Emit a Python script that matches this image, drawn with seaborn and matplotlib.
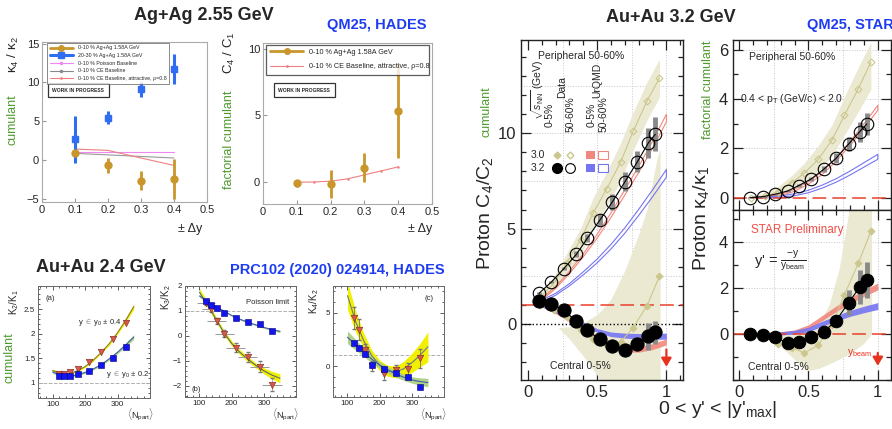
import matplotlib
matplotlib.use("Agg")
import matplotlib.pyplot as plt
from matplotlib.lines import Line2D
from matplotlib.patches import Rectangle
from matplotlib.ticker import AutoMinorLocator, MultipleLocator
import seaborn as sns

# ---------------- Ag+Ag 2.55 GeV (HADES, QM25) ----------------
dy = [0.1, 0.2, 0.3, 0.4]
k4k2_0010 = [0.95, -0.65, -2.6, -2.4]
k4k2_0010_err = [0.25, 1.0, 1.25, 2.6]
k4k2_2030 = [2.7, 5.5, 9.1, 11.7]
k4k2_2030_err = [3.0, 0.8, 1.0, 1.9]
k4k2_poisson = [1.05, 1.05, 1.05, 1.05]
k4k2_ce = [0.9, 0.7, 0.5, 0.3]
k4k2_ce_attr = [1.45, 1.28, 0.3, -0.65]

c4c1_0010 = [-0.08, -0.12, 1.1, 5.35]
c4c1_0010_err = [0.25, 1.05, 1.1, 3.55]
dy_fine = [0.1, 0.15, 0.2, 0.25, 0.3, 0.35, 0.4]
c4c1_ce_attr = [0.0, 0.02, 0.08, 0.25, 0.55, 0.85, 1.15]

# ---------------- Au+Au 2.4 GeV (HADES, PRC102) ----------------
npart = [121, 136, 153, 177, 212, 250, 287, 325]
npart_fit = [100, 125, 150, 175, 200, 225, 250, 275, 300, 325, 350]

k2k1_04 = [1.17, 1.17, 1.21, 1.28, 1.43, 1.63, 1.89, 2.22]
k2k1_02 = [1.14, 1.13, 1.13, 1.17, 1.24, 1.36, 1.51, 1.72]
k2k1_04_fit = [1.25, 1.19, 1.18, 1.24, 1.33, 1.46, 1.62, 1.8, 2.02, 2.27, 2.55]
k2k1_02_fit = [1.22, 1.15, 1.13, 1.16, 1.21, 1.28, 1.37, 1.49, 1.62, 1.77, 1.93]
k2k1_fit_hw = [0.03, 0.03, 0.02, 0.02, 0.02, 0.02, 0.02, 0.03, 0.03, 0.04, 0.05]

k3k2_02 = [1.39, 1.25, 1.12, 0.93, 0.73, 0.56, 0.47, 0.2]
k3k2_04 = [1.33, 1.07, 0.6, 0.09, -0.47, -0.84, -1.24, -1.95]
k3k2_04_xerr = [28, 28, 30, 30, 30, 30, 30, 30]
k3k2_04_sys = [0.1, 0.1, 0.12, 0.15, 0.18, 0.2, 0.22, 0.25]
k3k2_02_fit = [1.6, 1.38, 1.18, 1.0, 0.82, 0.67, 0.55, 0.44, 0.34, 0.25, 0.18]
k3k2_04_fit = [1.75, 1.25, 0.7, 0.15, -0.3, -0.65, -0.93, -1.18, -1.4, -1.57, -1.7]
k3k2_04_hw = [0.15, 0.12, 0.1, 0.1, 0.1, 0.1, 0.1, 0.1, 0.12, 0.15, 0.18]
k3k2_02_hw = [0.05, 0.04, 0.04, 0.03, 0.03, 0.03, 0.03, 0.03, 0.04, 0.04, 0.05]

k4k2_b_02 = [2.14, 1.73, 1.13, 0.1, -0.31, -0.69, -1.0, -1.95]
k4k2_b_04 = [4.5, 3.4, 1.5, 0.0, -0.75, -0.38, -0.3, 0.72]
k4k2_b_04_err = [1.0, 1.0, 0.6, 0.5, 0.6, 0.5, 0.6, 0.9]
k4k2_b_04_fit = [6.6, 4.2, 2.4, 1.0, 0.05, -0.45, -0.55, -0.25, 0.3, 1.0, 1.8]
k4k2_b_04_hw = [1.3, 1.0, 0.7, 0.5, 0.5, 0.5, 0.55, 0.7, 0.9, 1.1, 1.4]
k4k2_b_02_fit = [2.7, 2.0, 1.3, 0.65, 0.1, -0.35, -0.75, -1.05, -1.3, -1.45, -1.55]
k4k2_b_02_hw = [0.6, 0.5, 0.4, 0.35, 0.3, 0.3, 0.3, 0.3, 0.3, 0.35, 0.4]

# ---------------- Au+Au 3.0 / 3.2 GeV (STAR, QM25) ----------------
yp = [0.08, 0.17, 0.26, 0.35, 0.43, 0.52, 0.61, 0.70, 0.79, 0.87, 0.92]
c4c2_per32 = [1.6, 2.2, 2.9, 3.65, 4.5, 5.45, 6.4, 7.45, 8.5, 9.5, 9.95]
c4c2_per32_sys = [0.05, 0.05, 0.1, 0.15, 0.2, 0.3, 0.4, 0.5, 0.55, 0.8, 0.9]
c4c2_cen32 = [1.19, 1.02, 0.70, 0.14, -0.35, -0.82, -1.18, -1.35, -1.04, -0.65, -0.44]
c4c2_cen32_sys = [0.02, 0.02, 0.03, 0.04, 0.05, 0.08, 0.1, 0.15, 0.3, 0.7, 0.6]

yp30 = [0.09, 0.19, 0.28, 0.38, 0.47, 0.57, 0.67, 0.76, 0.86, 0.95]
c4c2_per30 = [1.4, 2.15, 3.2, 4.4, 5.8, 7.1, 8.5, 10.1, 11.7, 12.9]
c4c2_per30_lo = [1.2, 1.8, 2.7, 3.6, 5.0, 6.2, 7.5, 9.1, 10.7, 11.9]
c4c2_per30_hi = [1.6, 2.5, 3.7, 5.0, 6.6, 8.0, 9.5, 11.1, 12.7, 13.9]
c4c2_cen30 = [1.0, 0.75, 0.35, -0.3, -0.8, -1.1, -0.95, -0.2, 0.95, 2.5]
cen30_band_x = [0.22, 0.3, 0.4, 0.5, 0.53, 0.6, 0.7, 0.8, 0.86, 0.93, 0.955]
c4c2_cen30_lo = [-0.2, -0.8, -1.7, -2.7, -3.2, -3.2, -3.2, -3.2, -3.2, -3.2, -3.2]
c4c2_cen30_hi = [-0.2, -0.15, 0.05, 0.5, 0.7, 1.3, 2.8, 4.7, 6.0, 8.6, 9.2]

yu = [0.1, 0.2, 0.3, 0.4, 0.5, 0.6, 0.7, 0.8, 0.9, 1.0]
urq_c4c2_per30 = [1.3, 1.9, 2.7, 3.6, 4.6, 5.7, 6.9, 8.1, 9.4, 10.8]
urq_c4c2_per32 = [1.2, 1.55, 2.05, 2.65, 3.3, 4.05, 4.9, 5.85, 6.85, 7.9]
urq_c4c2_cen30 = [0.95, 0.6, 0.2, -0.3, -0.8, -1.15, -1.35, -1.35, -1.2, -0.95]
urq_c4c2_cen32 = [0.95, 0.65, 0.35, 0.0, -0.35, -0.55, -0.62, -0.65, -0.66, -0.65]
urq_c4c2_per_hw = [0.05, 0.05, 0.06, 0.08, 0.1, 0.12, 0.14, 0.16, 0.18, 0.2]
urq_c4c2_cen_hw = [0.06, 0.07, 0.08, 0.09, 0.1, 0.12, 0.13, 0.14, 0.15, 0.16]

k4k1_per32 = [0.0, 0.04, 0.14, 0.27, 0.49, 0.76, 1.15, 1.6, 2.18, 2.68, 2.99]
k4k1_per32_sys = [0.01, 0.01, 0.02, 0.03, 0.05, 0.07, 0.12, 0.2, 0.3, 0.4, 0.45]
k4k1_cen32 = [0.0, -0.06, -0.14, -0.39, -0.36, -0.14, 0.09, 0.59, 1.37, 2.04, 2.35]
k4k1_cen32_sys = [0.02, 0.02, 0.03, 0.04, 0.05, 0.06, 0.1, 0.2, 0.55, 0.75, 0.8]

k4k1_per30 = [0.0, 0.05, 0.25, 0.61, 0.99, 1.55, 2.34, 3.35, 4.43, 5.5]
k4k1_per30_lo = [0.0, 0.0, 0.1, 0.35, 0.65, 1.05, 1.7, 2.55, 3.5, 4.4]
k4k1_per30_hi = [0.05, 0.2, 0.45, 0.9, 1.4, 2.1, 2.95, 4.1, 5.3, 6.3]
k4k1_cen30 = [0.0, -0.05, -0.42, -0.6, -0.82, -0.49, 0.4, 1.72, 3.09, 4.47]
k4cen_band_x = [0.2, 0.3, 0.4, 0.49, 0.57, 0.65, 0.72, 0.8, 0.9, 0.955]
k4k1_cen30_lo = [0.0, -0.55, -1.1, -1.6, -1.5, -1.3, -1.1, -0.85, -0.4, 0.0]
k4k1_cen30_hi = [0.0, 0.05, 0.1, 0.15, 0.3, 1.3, 2.8, 5.6, 5.6, 5.6]

urq_k4k1_per30 = [0.0, 0.03, 0.12, 0.3, 0.6, 1.0, 1.55, 2.2, 2.9, 3.65]
urq_k4k1_per32 = [0.0, 0.01, 0.04, 0.12, 0.25, 0.45, 0.7, 1.0, 1.33, 1.66]
urq_k4k1_cen30 = [0.0, 0.01, 0.03, 0.1, 0.3, 0.7, 1.1, 1.45, 1.78, 2.07]
urq_k4k1_cen32 = [0.0, 0.01, 0.03, 0.08, 0.2, 0.45, 0.68, 0.9, 1.07, 1.22]
urq_k4k1_per_hw = [0.02, 0.02, 0.03, 0.04, 0.05, 0.06, 0.07, 0.08, 0.09, 0.1]
urq_k4k1_cen_hw = [0.05, 0.06, 0.07, 0.08, 0.1, 0.11, 0.12, 0.13, 0.14, 0.15]

# ---------------- style ----------------
sns.set_style("ticks")
plt.rcParams['font.family'] = ['Liberation Sans', 'DejaVu Sans']
plt.rcParams['mathtext.fontset'] = 'custom'
plt.rcParams['mathtext.rm'] = 'Liberation Sans'
plt.rcParams['mathtext.it'] = 'Liberation Sans:italic'
plt.rcParams['mathtext.bf'] = 'Liberation Sans:bold'

GOLD = '#C9962C'
ABLUE = '#2F6DF2'
GREEN = '#4E9A2E'
TBLUE = '#1E3CF0'
KHAKI = '#CBC78E'
KBAND = '#EBE9D2'
SALMON = '#F2877D'
LBLUE = '#7575F2'
TRI = '#D8594A'
SQ = '#1414EE'

W, H = 892, 429
fig = plt.figure(figsize=(W / 100, H / 100), dpi=100)


def panel(l, t, r, b):
    return fig.add_axes([l / W, 1 - b / H, (r - l) / W, (b - t) / H])


def ftext(px, py, s, **kw):
    fig.text(px / W, 1 - py / H, s, **kw)


def line(ax, x, y, **kw):
    sns.lineplot(x=x, y=y, ax=ax, estimator=None, sort=False, legend=False, **kw)


# ================= Ag+Ag: kappa4/kappa2 =================
ax = panel(42, 42, 207, 202)
line(ax, dy, k4k2_poisson, color='#EE88EE', linewidth=0.8)
line(ax, dy, k4k2_ce, color='#999999', linewidth=0.8)
line(ax, dy, k4k2_ce_attr, color='#F08080', linewidth=0.8)
ax.errorbar(dy, k4k2_0010, yerr=k4k2_0010_err, fmt='o', color=GOLD, ms=5, elinewidth=2, zorder=4)
ax.errorbar(dy, k4k2_2030, yerr=k4k2_2030_err, fmt='s', color=ABLUE, ms=4.5, elinewidth=2.2, zorder=4)
ax.set_xlim(0, 0.5)
ax.set_ylim(-5.35, 15.2)
ax.set_xticks([0, 0.1, 0.2, 0.3, 0.4, 0.5])
ax.set_xticklabels(['0', '0.1', '0.2', '0.3', '0.4', '0.5'])
ax.set_yticks([-5, 0, 5, 10, 15])
ax.set_yticklabels(['\u22125', '0', '5', '10', '15'])
ax.tick_params(direction='in', length=3, color='#999999', labelsize=8, pad=2)
for s in ax.spines.values():
    s.set_color('#aaaaaa')
handles = [Line2D([], [], color=GOLD, lw=2, marker='o', ms=4),
           Line2D([], [], color=ABLUE, lw=2.2, marker='s', ms=4),
           Line2D([], [], color='#EE88EE', lw=0.8, marker='.', ms=3),
           Line2D([], [], color='#888888', lw=0.8, marker='.', ms=3),
           Line2D([], [], color='#F08080', lw=0.8, marker='.', ms=2)]
labels = ['0-10 % Ag+Ag 1.58A GeV', '20-30 % Ag+Ag 1.58A GeV', '0-10 % Poisson Baseline',
          '0-10 % CE Baseline', '0-10 % CE Baseline, attractive, \u03c1=0.8']
leg = ax.legend(handles, labels, loc='upper left', bbox_to_anchor=(0.03, 0.995), fontsize=3.8,
                frameon=True, fancybox=False, edgecolor='#555555', borderaxespad=0,
                handlelength=4.5, labelspacing=0.5, borderpad=0.5)
leg.get_frame().set_linewidth(0.6)
ax.text(0.22, 0.70, 'WORK IN PROGRESS', transform=ax.transAxes, fontsize=3.6, fontweight='bold',
        ha='center', va='center',
        bbox=dict(boxstyle='square,pad=0.9', fc='white', ec='#333333', lw=0.9))

# ================= Ag+Ag: C4/C1 =================
ax = panel(263, 43, 432, 204)
line(ax, dy_fine, c4c1_ce_attr, color='#F08080', linewidth=0.8, marker='.', markersize=2,
     markeredgecolor='#F08080')
ax.errorbar(dy, c4c1_0010, yerr=c4c1_0010_err, fmt='o', color=GOLD, ms=5, elinewidth=2, zorder=4)
ax.set_xlim(0, 0.5)
ax.set_ylim(-1.63, 10.43)
ax.set_xticks([0, 0.1, 0.2, 0.3, 0.4, 0.5])
ax.set_xticklabels(['0', '0.1', '0.2', '0.3', '0.4', '0.5'])
ax.set_yticks([0, 5, 10])
ax.tick_params(direction='in', length=3, color='#999999', labelsize=8, pad=2)
for s in ax.spines.values():
    s.set_color('#aaaaaa')
handles = [Line2D([], [], color=GOLD, lw=2, marker='o', ms=4),
           Line2D([], [], color='#F08080', lw=0.8, marker='.', ms=2)]
labels = ['0-10 % Ag+Ag 1.58A GeV', '0-10 % CE Baseline, attractive, \u03c1=0.8']
leg = ax.legend(handles, labels, loc='upper left', bbox_to_anchor=(0.018, 0.775, 0.965, 0.215),
                mode='expand', fontsize=5.2, frameon=True, fancybox=False, edgecolor='#333333',
                borderaxespad=0, handlelength=4.5, labelspacing=1.0, borderpad=0.6)
leg.get_frame().set_linewidth(0.9)
leg.set_zorder(10)
ax.text(0.245, 0.705, 'WORK IN PROGRESS', transform=ax.transAxes, fontsize=3.6, fontweight='bold',
        ha='center', va='center',
        bbox=dict(boxstyle='square,pad=0.9', fc='white', ec='#333333', lw=0.9))

ftext(204, 16, 'Ag+Ag 2.55 GeV', fontsize=13, fontweight='bold', ha='center', va='center')
ftext(377, 25, 'QM25, HADES', fontsize=10.5, fontweight='bold', color=TBLUE, ha='center', va='center')
ftext(13, 55, r'κ$_4$ / κ$_2$', fontsize=9.5, rotation=90, ha='center', va='center')
ftext(13, 120, 'cumulant', fontsize=9, rotation=90, ha='center', va='center', color=GREEN)
ftext(229, 53, r'C$_4$ / C$_1$', fontsize=9.5, rotation=90, ha='center', va='center')
ftext(229, 140, 'factorial cumulant', fontsize=9, rotation=90, ha='center', va='center', color=GREEN)
ftext(190, 229, '\u00b1 \u0394y', fontsize=9, ha='center', va='center')
ftext(420, 229, '\u00b1 \u0394y', fontsize=9, ha='center', va='center')


# ================= Au+Au 2.4 GeV (HADES) =================
def hades_frame(ax, ylim, yticks, ylabels):
    ax.set_xlim(55, 400)
    ax.set_ylim(*ylim)
    ax.set_xticks([100, 200, 300])
    ax.set_xticklabels(['100', '200', '300'])
    ax.set_yticks(yticks)
    ax.set_yticklabels(ylabels)
    ax.xaxis.set_minor_locator(AutoMinorLocator(5))
    ax.yaxis.set_minor_locator(AutoMinorLocator(5))
    ax.tick_params(which='both', direction='in', top=True, right=True, labelsize=5.8,
                   width=0.6, color='#444444', pad=2)
    ax.tick_params(which='major', length=3)
    ax.tick_params(which='minor', length=1.5)
    for s in ax.spines.values():
        s.set_color('#666666')
        s.set_linewidth(0.7)
    ax.axhline(1, ls='--', color='#b0b0b0', lw=0.7, zorder=1)


# (a)
ax = panel(38, 286, 150, 398)
hades_frame(ax, (0.69, 2.97), [1, 1.5, 2, 2.5], ['1', '1.5', '2', '2.5'])
ax.fill_between(npart_fit, [a - b for a, b in zip(k2k1_04_fit, k2k1_fit_hw)],
                [a + b for a, b in zip(k2k1_04_fit, k2k1_fit_hw)], color='#F2F000', lw=0, zorder=2)
ax.fill_between(npart_fit, [a - b for a, b in zip(k2k1_02_fit, k2k1_fit_hw)],
                [a + b for a, b in zip(k2k1_02_fit, k2k1_fit_hw)], color='#B9D98E', lw=0, zorder=2)
line(ax, npart_fit, k2k1_04_fit, color='#8A7D2A', linewidth=0.8, zorder=3)
line(ax, npart_fit, k2k1_02_fit, color='#3E5FA8', linewidth=0.8, zorder=3)
sns.scatterplot(x=npart, y=k2k1_04, ax=ax, marker='v', s=22, color=TRI, edgecolor='#7A2A20',
                linewidth=0.4, zorder=5)
sns.scatterplot(x=npart, y=k2k1_02, ax=ax, marker='s', s=16, color=SQ, edgecolor='#000080',
                linewidth=0.4, zorder=5)
ax.text(0.07, 0.92, '(a)', transform=ax.transAxes, fontsize=5.5, va='top')
ax.text(0.36, 0.67, r'y $\in$ y$_0$ ± 0.4', transform=ax.transAxes, fontsize=5.5, va='center')
ax.text(0.61, 0.21, r'y $\in$ y$_0$ ± 0.2', transform=ax.transAxes, fontsize=5.5, va='center')

# (b)
ax = panel(185, 286, 296, 397)
hades_frame(ax, (-2.45, 2.0), [-2, -1, 0, 1, 2], ['\u22122', '\u22121', '0', '1', '2'])
ax.fill_between(npart_fit, [a - b for a, b in zip(k3k2_04_fit, k3k2_04_hw)],
                [a + b for a, b in zip(k3k2_04_fit, k3k2_04_hw)], color='#F2F000', lw=0, zorder=2)
ax.fill_between(npart_fit, [a - b for a, b in zip(k3k2_02_fit, k3k2_02_hw)],
                [a + b for a, b in zip(k3k2_02_fit, k3k2_02_hw)], color='#B9D98E', lw=0, zorder=2)
line(ax, npart_fit, k3k2_04_fit, color='#5A6A70', linewidth=0.8, zorder=3)
line(ax, npart_fit, k3k2_02_fit, color='#3E5FA8', linewidth=0.8, zorder=3)
ax.errorbar(npart, k3k2_04, xerr=k3k2_04_xerr, fmt='none', ecolor='#999999', elinewidth=0.7, zorder=4)
ax.errorbar(npart, k3k2_04, yerr=k3k2_04_sys, fmt='none', ecolor='#777777', elinewidth=0.4,
            capsize=1.5, zorder=4)
sns.scatterplot(x=npart, y=k3k2_04, ax=ax, marker='v', s=22, color=TRI, edgecolor='#7A2A20',
                linewidth=0.4, zorder=5)
sns.scatterplot(x=npart, y=k3k2_02, ax=ax, marker='s', s=16, color=SQ, edgecolor='#000080',
                linewidth=0.4, zorder=5)
ax.text(0.06, 0.05, '(b)', transform=ax.transAxes, fontsize=5.5)
ax.text(0.55, 0.835, 'Poisson limit', transform=ax.transAxes, fontsize=5.5)

# (c)
ax = panel(333, 286, 444, 397)
hades_frame(ax, (-2.9, 7.5), [0, 5], ['0', '5'])
ax.fill_between(npart_fit, [a - b for a, b in zip(k4k2_b_04_fit, k4k2_b_04_hw)],
                [a + b for a, b in zip(k4k2_b_04_fit, k4k2_b_04_hw)], color='#F2F000', lw=0, zorder=2)
ax.fill_between(npart_fit, [a - b for a, b in zip(k4k2_b_02_fit, k4k2_b_02_hw)],
                [a + b for a, b in zip(k4k2_b_02_fit, k4k2_b_02_hw)], color='#A8CF7C', lw=0,
                alpha=0.9, zorder=2)
line(ax, npart_fit, k4k2_b_04_fit, color='#6A7890', linewidth=0.8, zorder=3)
line(ax, npart_fit, k4k2_b_02_fit, color='#3E5FA8', linewidth=0.8, zorder=3)
ax.errorbar(npart, k4k2_b_04, yerr=k4k2_b_04_err, fmt='none', ecolor='#777777', elinewidth=0.6,
            capsize=1.5, zorder=4)
sns.scatterplot(x=npart, y=k4k2_b_04, ax=ax, marker='v', s=22, color=TRI, edgecolor='#7A2A20',
                linewidth=0.4, zorder=5)
sns.scatterplot(x=npart, y=k4k2_b_02, ax=ax, marker='s', s=16, color=SQ, edgecolor='#000080',
                linewidth=0.4, zorder=5)
ax.text(0.82, 0.92, '(c)', transform=ax.transAxes, fontsize=5.5, va='top')

ftext(101, 268, 'Au+Au 2.4 GeV', fontsize=13, fontweight='bold', ha='center', va='center')
ftext(337, 270, 'PRC102 (2020) 024914, HADES', fontsize=10.5, fontweight='bold', color=TBLUE,
      ha='center', va='center')
ftext(10, 358, 'cumulant', fontsize=9, rotation=90, ha='center', va='center', color=GREEN)
ftext(14, 302, r'K$_2$/K$_1$', fontsize=7, rotation=90, ha='center', va='center')
ftext(166, 297, r'K$_3$/K$_2$', fontsize=7, rotation=90, ha='center', va='center')
ftext(314, 301, r'K$_4$/K$_2$', fontsize=7, rotation=90, ha='center', va='center')
for px in [154, 299, 447]:
    ftext(px, 415, r'$\langle\mathrm{N_{part}}\rangle$', fontsize=6.5, ha='right', va='center')


# ================= Au+Au 3.0 / 3.2 GeV (STAR) =================
def star_frame(ax, ylim, yticks, ymajor_grid):
    ax.set_xlim(-0.05, 1.12)
    ax.set_ylim(*ylim)
    ax.set_xticks([0, 0.5, 1])
    ax.set_xticklabels(['0', '0.5', '1'])
    ax.set_yticks(yticks)
    ax.xaxis.set_minor_locator(MultipleLocator(0.1))
    ax.yaxis.set_minor_locator(MultipleLocator(1))
    ax.tick_params(which='both', direction='in', top=True, right=True, labelsize=12,
                   width=0.9, color='#222222')
    ax.tick_params(which='major', length=7)
    ax.tick_params(which='minor', length=3.5)
    for s in ax.spines.values():
        s.set_color('#222222')
        s.set_linewidth(1.0)
    for v in [0.25, 0.5, 0.75, 1.0]:
        ax.axvline(v, ls=':', color='#c8c8c8', lw=0.7, zorder=0)
    for v in ymajor_grid:
        ax.axhline(v, ls=':', color='#c8c8c8', lw=0.7, zorder=0)


def band(ax, x, y, hw, **kw):
    ax.fill_between(x, [a - b for a, b in zip(y, hw)], [a + b for a, b in zip(y, hw)], **kw)


# ---- C4/C2 ----
ax = panel(521, 40, 683, 380)
star_frame(ax, (-2.95, 14.9), [0, 5, 10], [2.5, 5, 7.5, 10, 12.5])
ax.fill_between(yp30, c4c2_per30_lo, c4c2_per30_hi, color=KBAND, lw=0, zorder=1)
ax.fill_between(cen30_band_x, c4c2_cen30_lo, c4c2_cen30_hi, color=KBAND, lw=0, zorder=1)
band(ax, yu, urq_c4c2_per30, urq_c4c2_per_hw, facecolor='none', edgecolor=SALMON, lw=0.8, zorder=2)
band(ax, yu, urq_c4c2_per32, urq_c4c2_per_hw, facecolor='none', edgecolor=LBLUE, lw=0.8, zorder=2)
band(ax, yu, urq_c4c2_cen30, urq_c4c2_cen_hw, color=SALMON, lw=0, alpha=0.9, zorder=2)
band(ax, yu, urq_c4c2_cen32, urq_c4c2_cen_hw, color=LBLUE, lw=0, alpha=0.9, zorder=2)
ax.axhline(1, color='#E8402A', lw=1.1, dashes=(9, 4), zorder=2)
ax.axhline(0, color='black', lw=1.0, ls=':', zorder=2)
line(ax, yp30, c4c2_per30, color=KHAKI, linewidth=0.8, marker='D', markersize=3.5,
     markerfacecolor='none', markeredgecolor=KHAKI, markeredgewidth=0.8, zorder=3)
line(ax, yp30, c4c2_cen30, color=KHAKI, linewidth=0.8, marker='D', markersize=3.5,
     markerfacecolor=KHAKI, markeredgecolor=KHAKI, zorder=3)
ax.errorbar(yp, c4c2_per32, yerr=c4c2_per32_sys, fmt='none', ecolor='#8a8a8a', elinewidth=3.5, zorder=4)
ax.errorbar(yp, c4c2_cen32, yerr=c4c2_cen32_sys, fmt='none', ecolor='#8a8a8a', elinewidth=3.5, zorder=4)
line(ax, yp, c4c2_per32, color='black', linewidth=0.8, marker='o', markersize=9,
     markerfacecolor='none', markeredgecolor='black', markeredgewidth=0.8, zorder=5)
line(ax, yp, c4c2_cen32, color='black', linewidth=0.8, marker='o', markersize=9.5,
     markerfacecolor='black', markeredgecolor='black', zorder=5)
ax.annotate('', xy=(1.0, -2.4), xytext=(1.0, -1.2),
            arrowprops=dict(arrowstyle='-|>,head_width=0.3,head_length=0.5', color='#E8321E', lw=1.6))
# legend block
tr = ax.transAxes
ax.text(0.37, 0.953, 'Peripheral 50-60%', transform=tr, fontsize=7.5, ha='center', va='center')
ax.text(0.365, 0.04, 'Central 0-5%', transform=tr, fontsize=7.5, ha='center', va='center')
for fx, fy, s in [(0.105, 0.765, r'$\sqrt{s_{\mathrm{NN}}}$ (GeV)'), (0.179, 0.744, '0-5%'),
                  (0.309, 0.729, '50-60%'), (0.253, 0.829, 'Data'), (0.469, 0.829, 'UrQMD'),
                  (0.438, 0.744, '0-5%'), (0.512, 0.729, '50-60%')]:
    ax.text(fx, fy, s, transform=tr, fontsize=7.5, rotation=90, ha='center', va='bottom')
ax.text(0.105, 0.662, '3.0', transform=tr, fontsize=7.5, ha='center', va='center')
ax.text(0.105, 0.624, '3.2', transform=tr, fontsize=7.5, ha='center', va='center')
ax.plot([0.222], [0.662], transform=tr, marker='D', ms=3.5, color=KHAKI, ls='none')
ax.plot([0.302], [0.662], transform=tr, marker='D', ms=3.5, mfc='none', mec=KHAKI, ls='none')
ax.plot([0.222], [0.624], transform=tr, marker='o', ms=7, color='black', ls='none')
ax.plot([0.302], [0.624], transform=tr, marker='o', ms=7, mfc='none', mec='black', mew=0.8, ls='none')
ax.add_patch(Rectangle((0.401, 0.650), 0.056, 0.024, transform=tr, fc=SALMON, ec='none'))
ax.add_patch(Rectangle((0.475, 0.650), 0.062, 0.024, transform=tr, fc='none', ec=SALMON, lw=0.8))
ax.add_patch(Rectangle((0.401, 0.612), 0.056, 0.024, transform=tr, fc=LBLUE, ec='none'))
ax.add_patch(Rectangle((0.475, 0.612), 0.062, 0.024, transform=tr, fc='none', ec=LBLUE, lw=0.8))

# ---- kappa4/kappa1 peripheral ----
ax = panel(733, 40, 891, 210)
star_frame(ax, (-0.5, 6.4), [0, 2, 4, 6], [2, 4, 6])
ax.set_xlim(-0.043, 1.095)
ax.set_xticklabels([])
ax.fill_between(yp30, k4k1_per30_lo, k4k1_per30_hi, color=KBAND, lw=0, zorder=1)
band(ax, yu, urq_k4k1_per30, urq_k4k1_per_hw, facecolor='none', edgecolor=SALMON, lw=0.8, zorder=2)
band(ax, yu, urq_k4k1_per32, urq_k4k1_per_hw, facecolor='none', edgecolor=LBLUE, lw=0.8, zorder=2)
ax.axhline(0, color='#E8402A', lw=1.1, dashes=(9, 4), zorder=2)
line(ax, yp30, k4k1_per30, color=KHAKI, linewidth=0.8, marker='D', markersize=3.5,
     markerfacecolor='none', markeredgecolor=KHAKI, markeredgewidth=0.8, zorder=3)
ax.errorbar(yp, k4k1_per32, yerr=k4k1_per32_sys, fmt='none', ecolor='#8a8a8a', elinewidth=3.5, zorder=4)
line(ax, yp, k4k1_per32, color='black', linewidth=0.8, marker='o', markersize=9,
     markerfacecolor='none', markeredgecolor='black', markeredgewidth=0.8, zorder=5)
ax.text(0.373, 0.9, 'Peripheral 50-60%', transform=ax.transAxes, fontsize=7.5, ha='center', va='center')
ax.text(0.373, 0.655, r'0.4 < p$_\mathrm{T}$ (GeV/c) < 2.0', transform=ax.transAxes, fontsize=7.5,
        ha='center', va='center')

# ---- kappa4/kappa1 central ----
ax = panel(733, 210, 891, 380)
star_frame(ax, (-2.0, 5.4), [0, 2, 4], [2, 4])
ax.set_xlim(-0.043, 1.095)
ax.fill_between(k4cen_band_x, k4k1_cen30_lo, k4k1_cen30_hi, color=KBAND, lw=0, zorder=1)
band(ax, yu, urq_k4k1_cen30, urq_k4k1_cen_hw, color=SALMON, lw=0, alpha=0.9, zorder=2)
band(ax, yu, urq_k4k1_cen32, urq_k4k1_cen_hw, color=LBLUE, lw=0, alpha=0.9, zorder=2)
ax.axhline(0, color='#E8402A', lw=1.1, dashes=(9, 4), zorder=2)
line(ax, yp30, k4k1_cen30, color=KHAKI, linewidth=0.8, marker='D', markersize=3.5,
     markerfacecolor=KHAKI, markeredgecolor=KHAKI, zorder=3)
ax.errorbar(yp, k4k1_cen32, yerr=k4k1_cen32_sys, fmt='none', ecolor='#8a8a8a', elinewidth=3.5, zorder=4)
line(ax, yp, k4k1_cen32, color='black', linewidth=0.8, marker='o', markersize=9,
     markerfacecolor='black', markeredgecolor='black', zorder=5)
ax.annotate('', xy=(1.0, -1.5), xytext=(1.0, -0.7),
            arrowprops=dict(arrowstyle='-|>,head_width=0.3,head_length=0.5', color='#E8321E', lw=1.6))
ax.text(0.405, 0.882, 'STAR Preliminary', transform=ax.transAxes, fontsize=8.5, color='#F04E46',
        ha='center', va='center')
ax.text(0.30, 0.70, r"y' = $\frac{\mathrm{-y}}{\mathrm{y_{beam}}}$", transform=ax.transAxes,
        fontsize=10.5, ha='center', va='center')
ax.text(0.29, 0.076, 'Central 0-5%', transform=ax.transAxes, fontsize=7.5, ha='center', va='center')
ax.text(0.80, 0.16, r'y$_{\mathrm{beam}}$', transform=ax.transAxes, fontsize=7.5, color='#E8321E',
        ha='center', va='center')

ftext(671, 18, 'Au+Au 3.2 GeV', fontsize=13, fontweight='bold', ha='center', va='center')
ftext(850, 25, 'QM25, STAR', fontsize=10.5, fontweight='bold', color=TBLUE, ha='center', va='center')
ftext(487, 112, 'cumulant', fontsize=9, rotation=90, ha='center', va='center', color=GREEN)
ftext(708, 90, 'factorial cumulant', fontsize=9, rotation=90, ha='center', va='center', color=GREEN)
ftext(485, 213, r'Proton C$_4$/C$_2$', fontsize=14, rotation=90, ha='center', va='center')
ftext(701, 218, r'Proton κ$_4$/κ$_1$', fontsize=14, rotation=90, ha='center', va='center')
ftext(718, 410, r"0 < y' < |y'$_{\mathrm{max}}$|", fontsize=14, ha='center', va='center')

fig.savefig('out.png', dpi=100)
